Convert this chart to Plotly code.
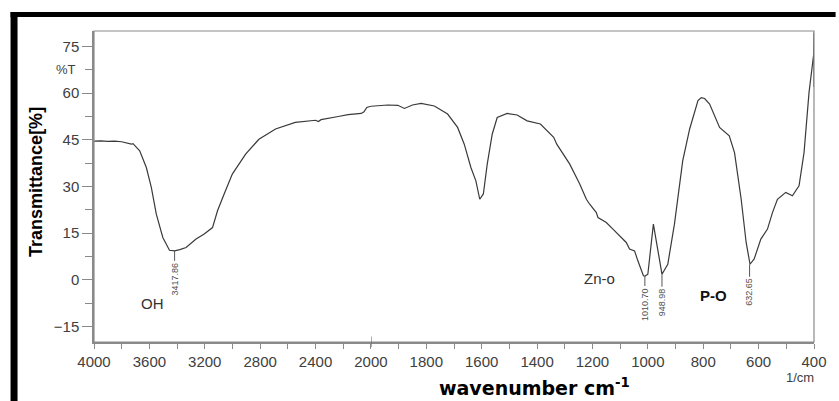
import plotly.graph_objects as go

# ---- data (wavenumber in 1/cm, transmittance in %) ----
wavenumber = [4000, 3950, 3900, 3850, 3800, 3760, 3730, 3718, 3670, 3622, 3586, 3550,
              3503, 3455, 3418, 3380, 3335, 3263, 3204, 3144, 3108, 3060, 3001, 2905,
              2809, 2689, 2546, 2400, 2380, 2360, 2308, 2236, 2165, 2070, 2050, 2030,
              2000, 1939, 1903, 1879, 1850, 1819, 1771, 1723, 1687, 1663, 1639, 1621,
              1607, 1600, 1594, 1580, 1562, 1544, 1508, 1472, 1436, 1388, 1340, 1329,
              1282, 1246, 1222, 1210, 1186, 1180, 1150, 1126, 1096, 1078, 1066, 1048,
              1036, 1016, 1010, 1000, 980, 964, 949, 928, 904, 874, 849, 819, 807, 795,
              777, 741, 706, 687, 663, 645, 631, 616, 592, 568, 550, 532, 502, 478,
              454, 436, 418, 401, 400, 400]
transmittance = [44.6, 44.7, 44.5, 44.6, 44.4, 44.0, 43.6, 43.8, 41.5, 36.1, 29.7, 21.1,
                 13.6, 9.5, 9.3, 9.7, 10.4, 13.1, 14.7, 16.8, 22.2, 27.6, 34.0, 40.4,
                 45.2, 48.5, 50.6, 51.3, 50.9, 51.5, 52.0, 52.5, 53.1, 53.5, 54.0, 55.4,
                 55.8, 56.2, 56.1, 55.1, 56.2, 56.7, 55.9, 53.3, 49.0, 43.6, 36.1, 31.8,
                 25.9, 27.0, 27.6, 37.2, 46.8, 52.2, 53.5, 53.0, 51.1, 50.1, 45.8, 43.6,
                 37.2, 30.8, 25.9, 24.3, 21.6, 20.0, 18.4, 16.3, 13.6, 12.0, 9.9, 9.3,
                 6.1, 1.3, 1.2, 1.8, 17.9, 9.3, 1.8, 5.0, 17.9, 38.3, 48.5, 57.6, 58.6, 58.3,
                 56.5, 49.0, 46.3, 40.9, 25.9, 12.0, 5.0, 6.7, 13.1, 16.3, 21.6, 25.9, 28.1, 27.0,
                 30.2, 40.9, 60.2, 72.6, 79.5, 62.0]

peak_wn = [3417.86, 1010.70, 948.98, 632.65]
peak_T = [9.3, 1.2, 1.8, 5.0]
peak_labels = ["3417.86", "1010.70", "948.98", "632.65"]

hi_ticks = [4000, 3600, 3200, 2800, 2400]
hi_minor = [3800, 3400, 3000, 2600, 2200]
lo_ticks = [2000, 1800, 1600, 1400, 1200, 1000, 800, 600, 400]
lo_minor = [1900, 1700, 1500, 1300, 1100, 900, 700, 500]
y_ticks = [-15, 0, 15, 30, 45, 60, 75]
y_minor = [-7.5, 7.5, 22.5, 37.5, 52.5, 67.5]

# ---- figure ----
hi = [(w, t) for w, t in zip(wavenumber, transmittance) if w >= 2000]
lo = [(w, t) for w, t in zip(wavenumber, transmittance) if w <= 2000]

line_style = dict(color="#3a3a3a", width=1.2)
fig = go.Figure()
fig.add_trace(go.Scatter(x=[p[0] for p in hi], y=[p[1] for p in hi], mode="lines",
                         line=line_style, xaxis="x", yaxis="y", showlegend=False))
fig.add_trace(go.Scatter(x=[p[0] for p in lo], y=[p[1] for p in lo], mode="lines",
                         line=line_style, xaxis="x2", yaxis="y", showlegend=False))

FONT = "Liberation Sans, Arial, sans-serif"
tickfont = dict(family=FONT, size=15, color="#404040")
AX = "#8a8a8a"
split = 5 / 13

common_x = dict(showgrid=False, zeroline=False, showline=True, linecolor=AX, linewidth=1.5,
                ticks="outside", ticklen=5, tickcolor=AX, tickwidth=1.2, tickfont=tickfont,
                anchor="y")
fig.update_layout(
    width=839, height=401,
    margin=dict(l=94, r=20, t=31, b=59),
    paper_bgcolor="white", plot_bgcolor="white",
    xaxis=dict(domain=[0, split], range=[4000, 2000], tickvals=hi_ticks,
               ticktext=[str(v) for v in hi_ticks],
               minor=dict(tickvals=hi_minor, ticks="outside", ticklen=5, tickcolor=AX),
               **common_x),
    xaxis2=dict(domain=[split, 1], range=[2000, 400], tickvals=lo_ticks,
                ticktext=[str(v) for v in lo_ticks],
                minor=dict(tickvals=lo_minor, ticks="outside", ticklen=5, tickcolor=AX),
                **common_x),
    yaxis=dict(domain=[0, 1], range=[-20, 80], tickvals=y_ticks,
               showgrid=False, zeroline=False, showline=True, linecolor=AX, linewidth=1.5,
               ticks="outside", ticklen=10, tickcolor=AX, tickwidth=1.2, tickfont=tickfont,
               minor=dict(tickvals=y_minor, ticks="outside", ticklen=7, tickcolor=AX)),
)

shapes = [
    # plot frame
    dict(type="rect", xref="paper", yref="paper", x0=0, x1=1, y0=0, y1=1,
         line=dict(color=AX, width=1.2)),
    # tall tick at 2000 break
    dict(type="line", xref="x2", yref="paper", x0=2000, x1=2000, y0=-0.016, y1=0.018,
         line=dict(color="#606060", width=1.2)),
    # black page frame
    dict(type="rect", xref="paper", yref="paper", x0=-0.1159, x1=-0.1062, y0=-0.2, y1=1.0611,
         fillcolor="black", line=dict(width=0)),
    dict(type="rect", xref="paper", yref="paper", x0=-0.1159, x1=1.03, y0=1.045, y1=1.0611,
         fillcolor="black", line=dict(width=0)),
]
fig.update_layout(shapes=shapes)

ann = []
for w, t, lab in zip(peak_wn, peak_T, peak_labels):
    ann.append(dict(x=w, y=t, xref="x" if w > 2000 else "x2", yref="y",
                    text=lab, textangle=-90, showarrow=True, arrowhead=0,
                    arrowwidth=1, arrowcolor="#555555", ax=0, ay=28, standoff=0,
                    font=dict(family=FONT, size=9, color="#505050")))

ann += [
    dict(x=3577, y=-7.7, xref="x", yref="y", text="OH", showarrow=False,
         xanchor="center", yanchor="middle",
         font=dict(family=FONT, size=15, color="#333333")),
    dict(x=1175, y=0.3, xref="x2", yref="y", text="Zn-o", showarrow=False,
         xanchor="center", yanchor="middle",
         font=dict(family=FONT, size=15, color="#333333")),
    dict(x=763, y=-5.1, xref="x2", yref="y", text="<b>P-O</b>", showarrow=False,
         xanchor="center", yanchor="middle",
         font=dict(family=FONT, size=15, color="#111111")),
    dict(x=-0.022, y=67.5, xref="paper", yref="y", text="%T", showarrow=False,
         xanchor="right", yanchor="middle",
         font=dict(family=FONT, size=13, color="#404040")),
    dict(x=0.981, y=-0.114, xref="paper", yref="paper", text="1/cm", showarrow=False,
         xanchor="center", yanchor="middle",
         font=dict(family=FONT, size=13, color="#404040")),
    dict(x=0.612, y=-0.145, xref="paper", yref="paper",
         text="<b>wavenumber cm<sup>-1</sup></b>", showarrow=False,
         xanchor="center", yanchor="middle",
         font=dict(family="DejaVu Sans, sans-serif", size=19, color="black")),
    dict(x=-0.0814, y=0.516, xref="paper", yref="paper", text="<b>Transmittance[%]</b>",
         textangle=-90, showarrow=False, xanchor="center", yanchor="middle",
         font=dict(family=FONT, size=18, color="black")),
]
fig.update_layout(annotations=ann)

fig.write_html("out.html")
